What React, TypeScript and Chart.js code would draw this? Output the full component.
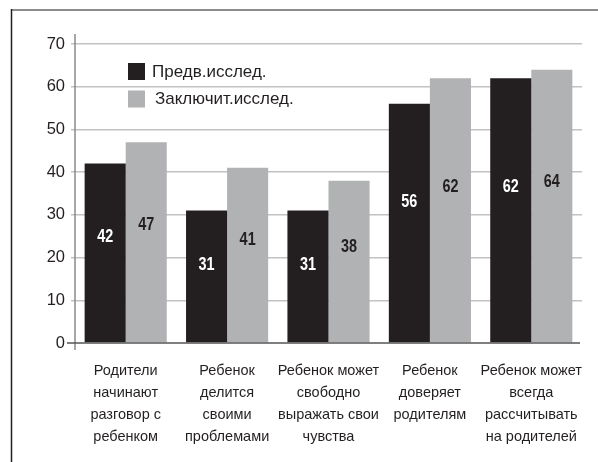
import React, { useEffect, useRef } from "react";
import { Chart, registerables } from "chart.js";

Chart.register(...registerables);

const categories: string[][] = [
  ["Родители", "начинают", "разговор с", "ребенком"],
  ["Ребенок", "делится", "своими", "проблемами"],
  ["Ребенок может", "свободно", "выражать свои", "чувства"],
  ["Ребенок", "доверяет", "родителям"],
  ["Ребенок может", "всегда", "рассчитывать", "на родителей"],
];
const seriesNames = ["Предв.исслед.", "Заключит.исслед."];
const prelimValues = [42, 31, 31, 56, 62];
const finalValues = [47, 41, 38, 62, 64];
const yMin = 0;
const yMax = 70;
const yStep = 10;

const DARK = "#231f20";
const GRAY = "#b1b2b4";
const FONT = '"Liberation Sans", Arial, sans-serif';

const framePlugin = {
  id: "frame",
  afterDraw(chart: any) {
    const ctx = chart.ctx;
    const { left, right, top, bottom } = chart.chartArea;
    ctx.save();
    ctx.strokeStyle = "#8c8c8c";
    ctx.lineWidth = 2;
    ctx.beginPath();
    ctx.moveTo(11, 10);
    ctx.lineTo(chart.width, 10);
    ctx.stroke();
    ctx.strokeStyle = DARK;
    ctx.lineWidth = 1.5;
    ctx.beginPath();
    ctx.moveTo(11.5, 9);
    ctx.lineTo(11.5, chart.height);
    ctx.stroke();
    ctx.strokeStyle = "#8a8a8a";
    ctx.lineWidth = 1.5;
    ctx.beginPath();
    ctx.moveTo(left, top - 10);
    ctx.lineTo(left, bottom + 7);
    ctx.stroke();
    ctx.strokeStyle = "#555555";
    ctx.lineWidth = 1.5;
    ctx.beginPath();
    ctx.moveTo(left - 8, bottom);
    ctx.lineTo(right - 2, bottom);
    ctx.stroke();
    ctx.font = "17px " + FONT;
    ctx.textBaseline = "middle";
    ctx.textAlign = "left";
    chart.data.datasets.forEach((ds: any, i: number) => {
      const y = 63 + i * 27.5;
      ctx.fillStyle = ds.backgroundColor;
      ctx.fillRect(128, y, 17, 17);
      ctx.fillStyle = DARK;
      ctx.fillText(ds.label, 152 + i * 3, y + 9);
    });
    ctx.restore();
  },
};

const valueLabelPlugin = {
  id: "valueLabels",
  afterDatasetsDraw(chart: any) {
    const ctx = chart.ctx;
    const yScale = chart.scales.y;
    const sx = 0.8;
    chart.data.datasets.forEach((ds: any, di: number) => {
      const meta = chart.getDatasetMeta(di);
      meta.data.forEach((bar: any, i: number) => {
        const v = ds.data[i];
        ctx.save();
        ctx.font = "bold 18px " + FONT;
        ctx.textAlign = "center";
        ctx.textBaseline = "middle";
        ctx.fillStyle = di === 0 ? "#ffffff" : DARK;
        ctx.translate(bar.x, yScale.getPixelForValue(v * 0.59));
        ctx.scale(sx, 1);
        ctx.fillText(String(v), 0, 0);
        ctx.restore();
      });
    });
  },
};

export default function App() {
  const ref = useRef<HTMLCanvasElement>(null);
  useEffect(() => {
    if (!ref.current) return;
    const chart = new Chart(ref.current, {
      type: "bar",
      data: {
        labels: categories,
        datasets: [
          { label: seriesNames[0], data: prelimValues, backgroundColor: DARK, borderWidth: 0 },
          { label: seriesNames[1], data: finalValues, backgroundColor: GRAY, borderWidth: 0 },
        ],
      },
      options: {
        animation: false,
        responsive: false,
        devicePixelRatio: 1,
        categoryPercentage: 0.81,
        barPercentage: 1,
        layout: { padding: { left: 0, top: 44, right: 16, bottom: 0 } },
        plugins: { legend: { display: false }, tooltip: { enabled: false } },
        scales: {
          x: {
            grid: { display: false },
            border: { display: false },
            ticks: {
              color: DARK,
              font: { family: FONT, size: 14.5, lineHeight: 22 / 14.5 },
              padding: 9,
              maxRotation: 0,
              autoSkip: false,
            },
            afterFit: (s: any) => {
              s.height = 119;
            },
          },
          y: {
            min: yMin,
            max: yMax,
            border: { display: false },
            grid: {
              color: (c: any) => (c.tick && c.tick.value === 0 ? "rgba(0,0,0,0)" : "#c2c2c2"),
              lineWidth: 1.5,
              tickLength: 4,
            },
            ticks: {
              stepSize: yStep,
              color: DARK,
              font: { family: FONT, size: 16.5 },
              padding: 6,
            },
            afterFit: (s: any) => {
              s.width = 75;
            },
          },
        },
      },
      plugins: [valueLabelPlugin, framePlugin],
    } as any);
    return () => chart.destroy();
  }, []);
  return (
    <div style={{ position: "absolute", left: 0, top: 0, width: 598, height: 462, background: "#fff" }}>
      <canvas ref={ref} width={598} height={462} style={{ display: "block" }} />
    </div>
  );
}
